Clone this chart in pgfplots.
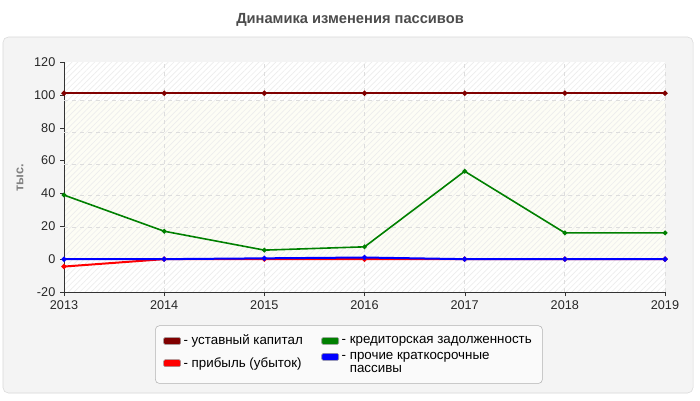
\documentclass[border=0pt]{standalone}
\usepackage{pgfplots}
\pgfplotsset{compat=1.18}
\usepackage{fontspec}
\setmainfont{Liberation Sans}
\usetikzlibrary{patterns.meta}
\definecolor{panelbg}{HTML}{F4F4F4}
\definecolor{panelborder}{HTML}{D8D8D8}
\definecolor{ivory}{HTML}{FDFDF5}
\definecolor{gridc}{HTML}{DDDDDD}
\definecolor{cMaroon}{HTML}{800000}
\definecolor{cGreen}{HTML}{008000}
\definecolor{cRed}{HTML}{FF0000}
\definecolor{cBlue}{HTML}{0000FF}
\pgfplotsset{layers/mylayers/.define layer set={bgpanel,axis background,axis grid,axis ticks,axis lines,axis tick labels,pre main,main,axis descriptions,axis foreground}{}}
\begin{document}
\begin{tikzpicture}
\begin{axis}[
  set layers=mylayers,
  clip=false,
  at={(48pt,81pt)}, anchor=south west,
  scale only axis, width=450.75pt, height=172.5pt,
  xmin=2013, xmax=2019, ymin=-20, ymax=120,
  xtick={2013,...,2019}, ytick={-20,0,...,120},
  /pgf/number format/1000 sep={},
  /pgf/number format/assume math mode=true,
  tick label style={font=\fontsize{9.5}{11}\selectfont, text=black!85},
  axis x line*=bottom, axis y line*=left,
  axis line style={black!80, -},
  tick style={black!80},
  tick align=outside, major tick length=3pt,
  xmajorgrids=true, ymajorgrids=false,
  grid style={gridc, dashed, line width=0.6pt},
  extra y ticks={0,19.3,38.6,57.9,77.2,96.5},
  extra y tick labels={},
  extra y tick style={ymajorgrids=true, major tick length=0pt},
  legend columns=2,
  legend style={at={(0.474,-0.272)}, anchor=center, draw=black!30, fill=white!50!panelbg,
    rounded corners=3pt, font=\fontsize{10}{9.5}\selectfont,
    cells={anchor=west, align=left},
    /tikz/every even column/.append style={column sep=12pt},
    inner xsep=6pt, inner ysep=5pt},
  legend image code/.code={\fill[draw=black!40, rounded corners=1pt, line width=0.4pt] (0pt,-2.6pt) rectangle (12.75pt,2.6pt);},
  every axis plot/.append style={mark=*, mark size=1.1pt},
]
\begin{pgfonlayer}{bgpanel}
\fill[white] (rel axis cs:-0.1065,-0.4696) rectangle (rel axis cs:1.0582,1.2696);
\draw[panelborder, fill=panelbg, rounded corners=4pt] (rel axis cs:-0.1015,-0.4391) rectangle (rel axis cs:1.0466,1.1087);
\node[font=\bfseries\fontsize{11}{13}\selectfont, text=black!70] at (rel axis cs:0.4759,1.1826) {Динамика изменения пассивов};
\node[font=\bfseries\fontsize{9.5}{11}\selectfont, text=black!50, rotate=90] at (rel axis cs:-0.0732,0.4957) {тыс.};
\end{pgfonlayer}
\begin{pgfonlayer}{axis background}
\fill[white] (axis cs:2013,-20) rectangle (axis cs:2019,120);
\fill[ivory] (axis cs:2013,0) rectangle (axis cs:2019,96.5);
\fill[pattern={Lines[angle=45,distance=3pt,line width=0.5pt]}, pattern color=black!7] (axis cs:2013,-20) rectangle (axis cs:2019,120);
\end{pgfonlayer}
\addplot[cMaroon, line width=1.5pt] coordinates {(2013,101) (2014,101) (2015,101) (2016,101) (2017,101) (2018,101) (2019,101)};
\addlegendentry{- уставный капитал}
\addplot[cGreen, line width=1.2pt] coordinates {(2013,39) (2014,17) (2015,5.5) (2016,7.5) (2017,53.5) (2018,16) (2019,16)};
\addlegendentry{- кредиторская задолженность}
\addplot[cRed, line width=1.5pt] coordinates {(2013,-4.5) (2014,0) (2015,0) (2016,0) (2017,0) (2018,0) (2019,0)};
\addlegendentry{- прибыль (убыток)}
\addplot[cBlue, line width=1.5pt, legend image code/.code={\fill[draw=black!40, rounded corners=1pt, line width=0.4pt] (0pt,2.1pt) rectangle (12.75pt,7.3pt);}] coordinates {(2013,0) (2014,0) (2015,0.5) (2016,1) (2017,0) (2018,0) (2019,0)};
\addlegendentry{- прочие краткосрочные\\\hphantom{- }пассивы}
\end{axis}
\end{tikzpicture}
\end{document}
